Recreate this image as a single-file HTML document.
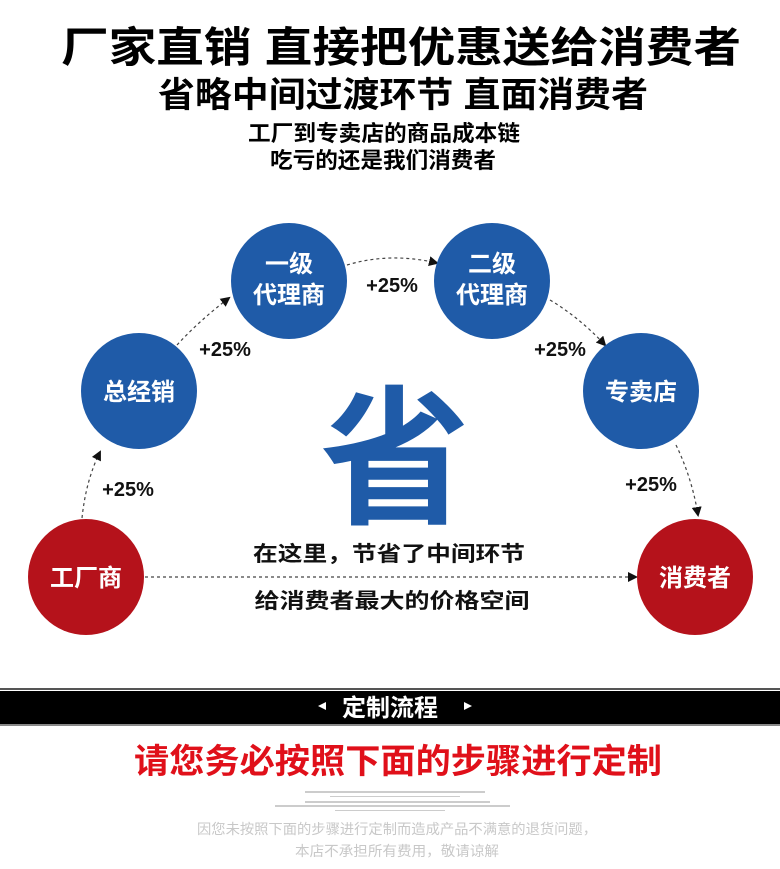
<!DOCTYPE html>
<html><head><meta charset="utf-8"><style>
html,body{margin:0;padding:0;background:#fff;}
body{width:780px;height:869px;overflow:hidden;position:relative;font-family:"Liberation Sans","Noto Sans CJK SC",sans-serif;}
svg{position:absolute;left:0;top:0}
</style></head><body>
<svg width="780" height="869" viewBox="0 0 780 869" font-family="Liberation Sans, Noto Sans CJK SC, sans-serif">
<defs><marker id="a" markerWidth="10" markerHeight="10" refX="8" refY="5" orient="auto" markerUnits="userSpaceOnUse"><path d="M0,0 L10,5 L0,10 z" fill="#111"/></marker></defs>
<text x="401" y="62" font-size="42" font-weight="bold" text-anchor="middle" textLength="680" lengthAdjust="spacingAndGlyphs">厂家直销 直接把优惠送给消费者</text>
<text x="403" y="107" font-size="35" font-weight="bold" text-anchor="middle" textLength="490" lengthAdjust="spacingAndGlyphs">省略中间过渡环节 直面消费者</text>
<text x="384" y="141" font-size="22" font-weight="bold" text-anchor="middle" textLength="272" lengthAdjust="spacingAndGlyphs">工厂到专卖店的商品成本链</text>
<text x="383" y="168" font-size="22" font-weight="bold" text-anchor="middle" textLength="226" lengthAdjust="spacingAndGlyphs">吃亏的还是我们消费者</text>
<g fill="none" stroke="#444" stroke-width="1.2" stroke-dasharray="3,3">
<path d="M82,518 Q86,480 100,452" marker-end="url(#a)"/>
<path d="M177,345 Q200,320 229,298" marker-end="url(#a)"/>
<path d="M347,265 Q390,252 437,263" marker-end="url(#a)"/>
<path d="M550,300 Q580,318 605,345" marker-end="url(#a)"/>
<path d="M676,445 Q692,478 698,515" marker-end="url(#a)"/>
<path d="M145,577 L636,577" marker-end="url(#a)"/>
</g>
<g fill="#1f5ba8"><circle cx="139" cy="391" r="58"/><circle cx="289" cy="281" r="58"/><circle cx="492" cy="281" r="58"/><circle cx="641" cy="391" r="58"/></g>
<g fill="#b5121b"><circle cx="86" cy="577" r="58"/><circle cx="695" cy="577" r="58"/></g>
<g fill="#fff" font-size="24" font-weight="bold" text-anchor="middle">
<text x="139" y="400">总经销</text>
<text x="289" y="272">一级</text><text x="289" y="303">代理商</text>
<text x="492" y="272">二级</text><text x="492" y="303">代理商</text>
<text x="641" y="400">专卖店</text>
<text x="86" y="586">工厂商</text><text x="695" y="586">消费者</text>
</g>
<g font-size="20" font-weight="bold" fill="#111" text-anchor="middle">
<text x="128" y="496">+25%</text><text x="225" y="356">+25%</text><text x="392" y="292">+25%</text><text x="560" y="356">+25%</text><text x="651" y="491">+25%</text>
</g>
<text x="395" y="512" font-size="150" font-weight="bold" fill="#1f5ba8" text-anchor="middle">省</text>
<text x="389" y="561" font-size="21" font-weight="bold" fill="#111" text-anchor="middle" textLength="272" lengthAdjust="spacingAndGlyphs">在这里，节省了中间环节</text>
<text x="392" y="608" font-size="21" font-weight="bold" fill="#111" text-anchor="middle" textLength="275" lengthAdjust="spacingAndGlyphs">给消费者最大的价格空间</text>
<rect x="0" y="688" width="780" height="2" fill="#555"/>
<rect x="0" y="691" width="780" height="33" fill="#000"/>
<rect x="0" y="724" width="780" height="2" fill="#888"/>
<text x="390" y="716" font-size="24" font-weight="bold" fill="#fff" text-anchor="middle">定制流程</text>
<path d="M318,706 L326,702 L326,710 z" fill="#fff"/><path d="M472,706 L464,702 L464,710 z" fill="#fff"/>
<text x="398" y="773" font-size="34" font-weight="bold" fill="#e0101a" text-anchor="middle" textLength="528" lengthAdjust="spacingAndGlyphs">请您务必按照下面的步骤进行定制</text>
<g fill="#ccc"><rect x="305" y="791" width="180" height="2"/><rect x="330" y="796" width="130" height="1"/><rect x="305" y="801" width="185" height="2"/><rect x="275" y="805" width="235" height="2"/><rect x="335" y="810" width="110" height="1"/></g>
<text x="397" y="834" font-size="14" fill="#c8c8c8" text-anchor="middle" textLength="400" lengthAdjust="spacingAndGlyphs">因您未按照下面的步骤进行定制而造成产品不满意的退货问题，</text>
<text x="397" y="856" font-size="14" fill="#c8c8c8" text-anchor="middle" textLength="204" lengthAdjust="spacingAndGlyphs">本店不承担所有费用，敬请谅解</text>
</svg>
</body></html>
